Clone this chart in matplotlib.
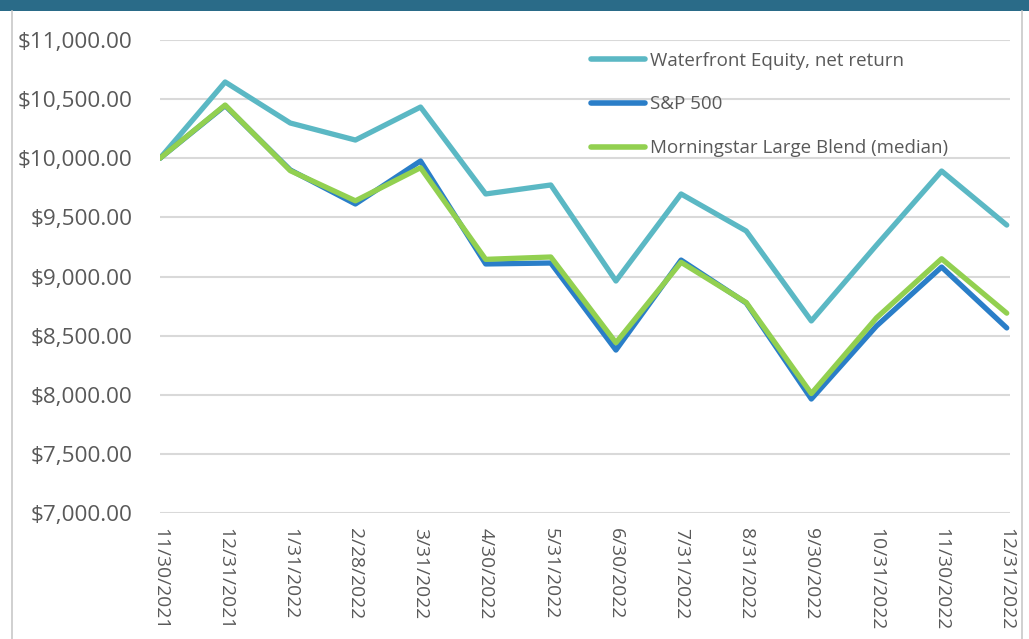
import matplotlib
matplotlib.use("Agg")
import matplotlib.pyplot as plt
from matplotlib.ticker import FuncFormatter, MultipleLocator
from matplotlib.lines import Line2D
from matplotlib.patches import Rectangle

dates = ["11/30/2021", "12/31/2021", "1/31/2022", "2/28/2022", "3/31/2022", "4/30/2022",
         "5/31/2022", "6/30/2022", "7/31/2022", "8/31/2022", "9/30/2022", "10/31/2022",
         "11/30/2022", "12/31/2022"]
waterfront = [10000, 10645, 10298, 10154, 10433, 9698, 9774, 8962, 9698, 9385, 8624, 9265, 9892, 9435]
sp500 = [10000, 10445, 9901, 9613, 9977, 9106, 9114, 8378, 9139, 8776, 7964, 8581, 9080, 8565]
morningstar = [10000, 10450, 9895, 9640, 9920, 9145, 9165, 8440, 9120, 8780, 8010, 8650, 9150, 8690]
series_names = ["Waterfront Equity, net return", "S&P 500", "Morningstar Large Blend (median)"]
colors = ["#5BB8C4", "#2A7EC8", "#92D050"]

plt.rcParams['font.family'] = ['Open Sans', 'DejaVu Sans']

W, H = 1029, 639
fig = plt.figure(figsize=(W / 100, H / 100), dpi=100)
fig.patch.set_facecolor("white")

# frame decorations
fig.patches.append(Rectangle((0, 1 - 11 / H), 1, 11 / H, transform=fig.transFigure,
                             facecolor="#2A6B88", edgecolor="none", zorder=0))
fig.lines.append(Line2D([12 / W, 12 / W], [0, 1 - 11 / H], transform=fig.transFigure,
                        color="#C8C8C8", lw=1.2))
fig.lines.append(Line2D([1022 / W, 1022 / W], [0, 1 - 11 / H], transform=fig.transFigure,
                        color="#C8C8C8", lw=1.2))

left, right = 160 / W, 1010 / W
top, bottom = 1 - 40 / H, 1 - 513 / H
ax = fig.add_axes([left, bottom, right - left, top - bottom])

x = list(range(len(dates)))
lw = 3.8
ax.plot(x, waterfront, color=colors[0], lw=lw, solid_capstyle="round", solid_joinstyle="round", zorder=3, label=series_names[0])
ax.plot(x, sp500, color=colors[1], lw=lw, solid_capstyle="round", solid_joinstyle="round", zorder=4, label=series_names[1])
ax.plot(x, morningstar, color=colors[2], lw=lw, solid_capstyle="round", solid_joinstyle="round", zorder=5, label=series_names[2])

ax.set_xlim(0, 13.05)
ax.set_ylim(7000, 11000)
ax.yaxis.set_major_locator(MultipleLocator(500))
ax.yaxis.set_major_formatter(FuncFormatter(lambda v, p: "${:,.2f}".format(v)))
ax.grid(axis="y", color="#D9D9D9", lw=1.5)
ax.set_axisbelow(True)
for s in ax.spines.values():
    s.set_visible(False)
ax.set_xticks(x)
ax.set_xticklabels(dates, rotation=270, ha="center", va="top")
ax.tick_params(axis="both", length=0, labelcolor="#595959")
ax.tick_params(axis="y", pad=20, labelsize=16.2)
ax.tick_params(axis="x", pad=11, labelsize=13.9)

leg = ax.legend(loc="upper left", bbox_to_anchor=((583 - 160) / 850, 1 - (44 - 40) / 473),
                frameon=False, fontsize=13.5, labelcolor="#595959", handlelength=2.9,
                handletextpad=0.25, labelspacing=1.38, borderaxespad=0)
for h in leg.get_lines():
    h.set_linewidth(4)

fig.savefig("out.png", dpi=100)
